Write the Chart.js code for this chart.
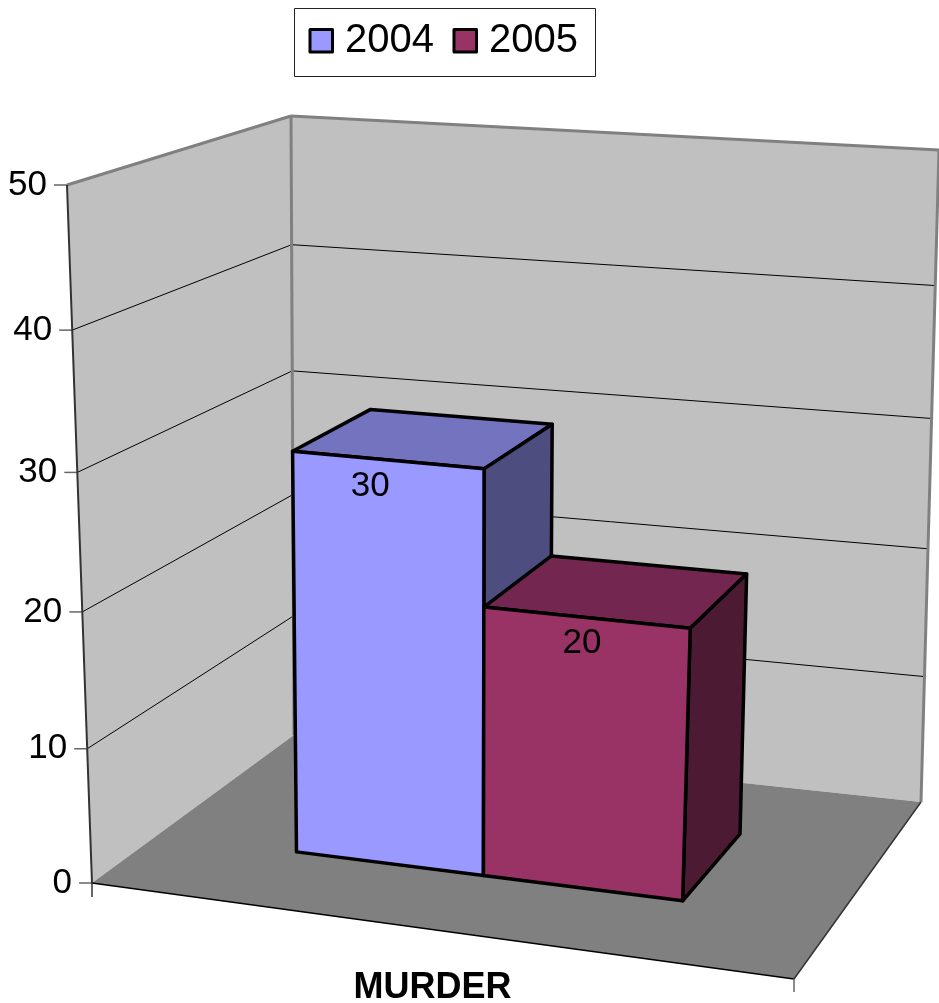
<!DOCTYPE html>
<html lang="en">
<head>
  <meta charset="UTF-8" />
  <title>Murder 2004 / 2005</title>
  <script src="https://cdn.jsdelivr.net/npm/chart.js"></script>
  <style>
    html, body { margin: 0; background: #fff; }
    canvas { display: block; }
  </style>
</head>
<body>
  <canvas id="chart" width="939" height="1003"></canvas>

  <script>
    const categories = ['MURDER'];
    const seriesNames = ['2004', '2005'];
    const values2004 = [30];
    const values2005 = [20];
    const yTicks = [0, 10, 20, 30, 40, 50];

    const faceColors = ['#9999FF', '#993366'];
    const topColors = ['#7373BF', '#732650'];
    const sideColors = ['#4D4D80', '#4D1A33'];

    const FONT = '"Liberation Sans", Arial, sans-serif';

    // the 3D box the chart sits in: corners go front-left, front-right, back-right, back-left
    const floorQuad = [[92, 883], [794, 979], [921, 802], [294, 735]];
    const roofQuad = [[67, 185], [832, 244], [939, 150], [291, 116]];
    const vertShrink = 1.05;      // perspective along the value axis
    const barFront = 0.30, barBack = 0.695, barShift = 0.0075, barLean = 8;
    const labelDx = [-18, -5], labelDy = 26;

    // unit square -> quad homography
    function quadPoint(q, u, w) {
      const [A, B, C, D] = q;
      const sx = A[0] - B[0] + C[0] - D[0], sy = A[1] - B[1] + C[1] - D[1];
      const dx1 = B[0] - C[0], dy1 = B[1] - C[1], dx2 = D[0] - C[0], dy2 = D[1] - C[1];
      const det = dx1 * dy2 - dx2 * dy1;
      const g = (sx * dy2 - dx2 * sy) / det, h = (dx1 * sy - sx * dy1) / det;
      const n = g * u + h * w + 1;
      return [
        ((B[0] - A[0] + g * B[0]) * u + (D[0] - A[0] + h * D[0]) * w + A[0]) / n,
        ((B[1] - A[1] + g * B[1]) * u + (D[1] - A[1] + h * D[1]) * w + A[1]) / n
      ];
    }

    function project(u, w, t) {
      const a = quadPoint(floorQuad, u, w), b = quadPoint(roofQuad, u, w);
      return [a[0] + (b[0] - a[0]) * t, a[1] + (b[1] - a[1]) * t];
    }

    function barPoint(u, w, t) {
      const p = project(u, w, t);
      return [p[0] + barLean * t, p[1]];
    }

    // linear axis foreshortened a little towards the top
    class PerspectiveScale extends Chart.LinearScale {
      getPixelForValue(value) {
        const f = (value - this.min) / (this.max - this.min);
        return this.getPixelForDecimal(f / (f + (1 - f) * vertShrink));
      }
    }
    PerspectiveScale.id = 'perspective';
    PerspectiveScale.defaults = Chart.LinearScale.defaults;
    Chart.register(PerspectiveScale);

    function poly(ctx, pts, fill, stroke, width) {
      ctx.beginPath();
      pts.forEach((p, i) => i ? ctx.lineTo(p[0], p[1]) : ctx.moveTo(p[0], p[1]));
      ctx.closePath();
      if (fill) { ctx.fillStyle = fill; ctx.fill(); }
      if (stroke) { ctx.strokeStyle = stroke; ctx.lineWidth = width; ctx.stroke(); }
    }

    function line(ctx, a, b, color, width) {
      ctx.beginPath();
      ctx.moveTo(a[0], a[1]);
      ctx.lineTo(b[0], b[1]);
      ctx.strokeStyle = color;
      ctx.lineWidth = width;
      ctx.stroke();
    }

    const box3d = {
      id: 'box3d',
      beforeDatasetsDraw(chart) {
        const ctx = chart.ctx, y = chart.scales.y, area = chart.chartArea;
        const frac = v => (area.bottom - y.getPixelForValue(v)) / (area.bottom - area.top);
        ctx.save();
        ctx.lineJoin = 'round';

        // walls
        poly(ctx, [project(0, 0, 0), project(0, 1, 0), project(0, 1, 1), project(0, 0, 1)], '#C0C0C0');
        poly(ctx, [project(0, 1, 0), project(1, 1, 0), project(1, 1, 1), project(0, 1, 1)], '#C0C0C0');

        // gridlines and ticks
        yTicks.forEach(v => {
          const t = frac(v), a = project(0, 0, t);
          if (v > 0 && v < 50) {
            line(ctx, a, project(0, 1, t), '#000', 1);
            line(ctx, project(0, 1, t), project(1, 1, t), '#000', 1);
          }
          line(ctx, [a[0] - 13, a[1]], a, '#666', 1.5);
          ctx.fillStyle = '#000';
          ctx.font = '35px ' + FONT;
          ctx.textAlign = 'right';
          ctx.textBaseline = 'middle';
          ctx.fillText(String(v), a[0] - 20, a[1]);
        });

        // wall edges
        line(ctx, project(0, 0, 1), project(0, 1, 1), '#808080', 3);
        line(ctx, project(0, 1, 1), project(1, 1, 1), '#808080', 3);
        line(ctx, project(0, 1, 0), project(0, 1, 1), '#808080', 3);
        line(ctx, project(1, 1, 0), project(1, 1, 1), '#808080', 3);
        line(ctx, project(0, 0, 0), project(0, 0, 1), '#333', 2);

        // floor
        poly(ctx, [project(0, 0, 0), project(1, 0, 0), project(1, 1, 0), project(0, 1, 0)], '#808080');
        line(ctx, project(0, 0, 0), project(1, 0, 0), '#000', 1.5);
        line(ctx, project(1, 0, 0), project(1, 1, 0), '#333', 1.5);
        const fl = project(0, 0, 0), fr = project(1, 0, 0);
        line(ctx, fl, [fl[0], fl[1] + 14], '#333', 1.5);
        line(ctx, fr, [fr[0], fr[1] + 13], '#666', 1.5);

        // bars
        const span = area.right - area.left;
        chart.data.datasets.forEach((ds, i) => {
          const bar = chart.getDatasetMeta(i).data[0];
          const u0 = (bar.x - bar.width / 2 - area.left) / span + barShift;
          const u1 = (bar.x + bar.width / 2 - area.left) / span + barShift;
          const t = frac(ds.data[0]);
          const a = barPoint(u0, barFront, 0), b = barPoint(u1, barFront, 0), c = barPoint(u1, barBack, 0);
          const at = barPoint(u0, barFront, t), bt = barPoint(u1, barFront, t);
          const ct = barPoint(u1, barBack, t), dt = barPoint(u0, barBack, t);
          poly(ctx, [at, bt, ct, dt], topColors[i], '#000', 3.5);
          poly(ctx, [b, c, ct, bt], sideColors[i], '#000', 3.5);
          poly(ctx, [a, b, bt, at], faceColors[i], '#000', 3.5);
          ctx.fillStyle = '#000';
          ctx.font = '35px ' + FONT;
          ctx.textAlign = 'center';
          ctx.textBaseline = 'middle';
          ctx.fillText(String(ds.data[0]), (at[0] + bt[0]) / 2 + labelDx[i], (at[1] + bt[1]) / 2 + labelDy);
        });

        // category label
        ctx.fillStyle = '#000';
        ctx.font = 'bold 36px ' + FONT;
        ctx.textAlign = 'center';
        ctx.textBaseline = 'alphabetic';
        ctx.fillText(categories[0], chart.scales.x.getPixelForValue(0) - 11, 998);

        // legend
        ctx.strokeStyle = '#222';
        ctx.lineWidth = 1;
        ctx.strokeRect(294.5, 8.5, 301, 68);
        chart.data.datasets.forEach((ds, i) => {
          const lx = 310 + i * 144;
          ctx.fillStyle = ds.backgroundColor;
          ctx.fillRect(lx, 29.5, 22.5, 22.5);
          ctx.strokeStyle = '#000';
          ctx.lineWidth = 3;
          ctx.strokeRect(lx, 29.5, 22.5, 22.5);
          ctx.fillStyle = '#000';
          ctx.font = '40px ' + FONT;
          ctx.textAlign = 'left';
          ctx.textBaseline = 'alphabetic';
          ctx.fillText(ds.label, lx + 35, 52);
        });

        ctx.restore();
        return false; // native flat bars stay undrawn
      }
    };

    new Chart(document.getElementById('chart'), {
      type: 'bar',
      data: {
        labels: categories,
        datasets: [
          { label: seriesNames[0], data: values2004, backgroundColor: faceColors[0] },
          { label: seriesNames[1], data: values2005, backgroundColor: faceColors[1] }
        ]
      },
      options: {
        responsive: false,
        animation: false,
        layout: { padding: { left: 92, right: 144, top: 185, bottom: 120 } },
        categoryPercentage: 0.57,
        barPercentage: 1,
        plugins: { legend: { display: false }, tooltip: { enabled: false } },
        scales: {
          x: { display: false },
          y: { type: 'perspective', display: false, min: 0, max: 50, ticks: { stepSize: 10 } }
        }
      },
      plugins: [box3d]
    });
  </script>
</body>
</html>
